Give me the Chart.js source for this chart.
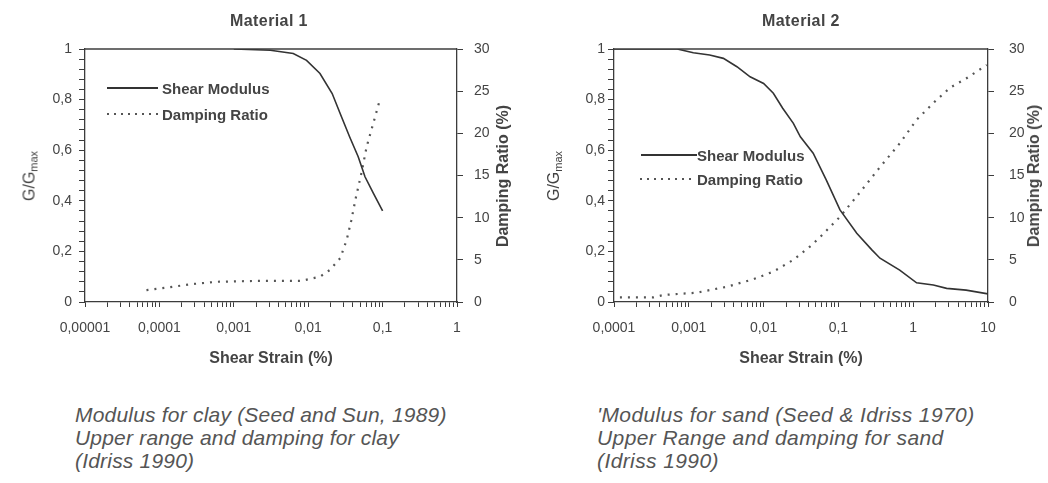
<!DOCTYPE html>
<html>
<head>
<meta charset="utf-8">
<script src="https://cdn.jsdelivr.net/npm/chart.js@4.4.1/dist/chart.umd.min.js"></script>
<style>
    body { margin: 0; background: #fff; }
    #page { position: relative; width: 1048px; height: 483px; overflow: hidden; font-family: "Liberation Sans", Arial, sans-serif; color: #444; }
    .box { position: absolute; top: 0; width: 524px; height: 380px; }
    .title { position: absolute; top: 21px; transform: translate(-50%, -50%); font-weight: bold; font-size: 16px; letter-spacing: 0.4px; white-space: nowrap; color: #444; }
    .ytitle { position: absolute; transform: translate(-50%, -50%) rotate(-90deg); white-space: nowrap; font-size: 16px; color: #444; }
    .ytitle sub { font-size: 11px; vertical-align: -3px; }
    .ytitle.bold { font-weight: bold; }
    .leg { position: absolute; height: 20px; display: flex; align-items: center; font-weight: bold; font-size: 15px; color: #444; white-space: nowrap; }
    .leg .solid { height: 0; border-top: 2px solid #333; }
    .leg .dots { height: 2px; background: repeating-linear-gradient(90deg, #555 0 2px, transparent 2px 7px); }
    .caption { position: absolute; top: 403px; font-style: italic; font-size: 21px; line-height: 23px; color: #555; white-space: nowrap; }
</style>
</head>
<body>
<div id="page">
    <div class="box" style="left:0"><canvas id="chartClay" width="524" height="380"></canvas></div>
    <div class="box" style="left:524px"><canvas id="chartSand" width="524" height="380"></canvas></div>

    <div class="title" style="left:269px">Material 1</div>
    <div class="title" style="left:801px">Material 2</div>

    <div class="ytitle" style="left:30px; top:176px">G/G<sub>max</sub></div>
    <div class="ytitle bold" style="left:503px; top:176px">Damping Ratio (%)</div>
    <div class="ytitle" style="left:554px; top:176px">G/G<sub>max</sub></div>
    <div class="ytitle bold" style="left:1034px; top:176px">Damping Ratio (%)</div>

    <div class="leg" style="left:107px; top:78px"><span class="solid" style="width:51px; margin-right:4px"></span>Shear Modulus</div>
    <div class="leg" style="left:107px; top:104px"><span class="dots" style="width:51px; margin-right:4px"></span>Damping Ratio</div>
    <div class="leg" style="left:641px; top:145px"><span class="solid" style="width:56px; margin-right:0"></span>Shear Modulus</div>
    <div class="leg" style="left:640px; top:169px"><span class="dots" style="width:53px; margin-right:4px"></span>Damping Ratio</div>

    <div class="caption" style="left:75px; letter-spacing:0.2px">Modulus for clay (Seed and Sun, 1989)<br>Upper range and damping for clay<br>(Idriss 1990)</div>
    <div class="caption" style="left:597px; letter-spacing:0.4px">'Modulus for sand (Seed &amp; Idriss 1970)<br>Upper Range and damping for sand<br>(Idriss 1990)</div>
</div>

<script>
// === Data ===
// Material 1 (clay)
const clayStrainG = [0.001, 0.0031, 0.0063, 0.0095, 0.0144, 0.021, 0.028, 0.036, 0.047, 0.058, 0.075, 0.1];
const clayModulus = [1.0, 0.995, 0.982, 0.955, 0.903, 0.824, 0.732, 0.653, 0.574, 0.495, 0.43, 0.36];
const clayStrainD = [0.000067, 0.000125, 0.00026, 0.0006, 0.002, 0.008, 0.0144, 0.0196, 0.027, 0.033, 0.038, 0.044, 0.052, 0.061, 0.075, 0.092];
const clayDamping = [1.4, 1.7, 2.1, 2.4, 2.5, 2.5, 3.0, 3.8, 5.2, 7.4, 9.7, 12.5, 15.3, 18.4, 21.2, 24.0];

// Material 2 (sand)
const sandStrainG = [0.0001, 0.0007, 0.00115, 0.0019, 0.0029, 0.0044, 0.0066, 0.01, 0.0135, 0.018, 0.025, 0.031, 0.046, 0.069, 0.105, 0.176, 0.28, 0.36, 0.66, 1.11, 1.86, 2.8, 5.1, 10];
const sandModulus = [1.0, 1.0, 0.985, 0.976, 0.963, 0.93, 0.89, 0.864, 0.825, 0.766, 0.706, 0.653, 0.588, 0.482, 0.364, 0.272, 0.206, 0.173, 0.126, 0.076, 0.067, 0.054, 0.047, 0.032];
const sandStrainD = [0.00012, 0.00034, 0.00046, 0.00126, 0.0032, 0.0073, 0.0135, 0.025, 0.042, 0.057, 0.105, 0.19, 0.36, 0.66, 1.11, 1.86, 3.1, 5.1, 9.6];
const sandDamping = [0.56, 0.56, 0.83, 1.1, 1.8, 2.7, 3.6, 5.0, 6.6, 7.7, 10.1, 12.9, 16.0, 18.8, 21.6, 23.6, 25.4, 26.5, 28.1];

// Tick labels
const clayDecades = [0.00001, 0.0001, 0.001, 0.01, 0.1, 1];
const clayDecadeLabels = ['0,00001', '0,0001', '0,001', '0,01', '0,1', '1'];
const sandDecades = [0.0001, 0.001, 0.01, 0.1, 1, 10];
const sandDecadeLabels = ['0,0001', '0,001', '0,01', '0,1', '1', '10'];
const modulusTickLabels = ['0', '0,2', '0,4', '0,6', '0,8', '1'];
const dampingTickLabels = ['0', '5', '10', '15', '20', '25', '30'];

// === Styling ===
const AXIS = '#3c3c3c';
const TEXT = '#444';
const FONT = '"Liberation Sans", Arial, sans-serif';

const frameTop = {
    id: 'frameTop',
    afterDraw(chart) {
        const { ctx, chartArea: a } = chart;
        ctx.save();
        ctx.strokeStyle = AXIS;
        ctx.lineWidth = 1.3;
        ctx.beginPath();
        ctx.moveTo(a.left, a.top);
        ctx.lineTo(a.right, a.top);
        ctx.stroke();
        ctx.restore();
    }
};

function toPoints(xs, ys) {
    return xs.map((x, i) => ({ x: x, y: ys[i] }));
}

// log axis: tick at 1..9 of every decade
function logTicks(decades) {
    const ticks = [];
    for (let i = 0; i < decades.length - 1; i++) {
        for (let k = 1; k < 10; k++) ticks.push(Number((decades[i] * k).toPrecision(6)));
    }
    ticks.push(decades[decades.length - 1]);
    return ticks;
}

function buildChart(id, s) {
    const ctx = document.getElementById(id).getContext('2d');
    const tickGrid = (len) => ({ display: true, drawOnChartArea: false, drawTicks: true, tickLength: len, color: AXIS, lineWidth: 1 });
    const border = { display: true, color: AXIS, width: 1.3 };
    const tickFont = { family: FONT, size: 14 };

    return new Chart(ctx, {
        type: 'line',
        data: {
            datasets: [
                { label: 'Shear Modulus', data: toPoints(s.strainG, s.modulus), yAxisID: 'y',
                  borderColor: '#333', borderWidth: 1.6, pointRadius: 0, tension: 0, fill: false },
                { label: 'Damping Ratio', data: toPoints(s.strainD, s.damping), yAxisID: 'y1',
                  borderColor: '#555', borderWidth: 2.2, borderDash: [2, 6], pointRadius: 0, tension: 0, fill: false }
            ]
        },
        options: {
            responsive: false,
            animation: false,
            layout: { padding: { top: 49, left: 0, right: 0, bottom: 0 } },
            plugins: { legend: { display: false }, tooltip: { enabled: false } },
            scales: {
                x: {
                    type: 'logarithmic',
                    min: s.decades[0],
                    max: s.decades[s.decades.length - 1],
                    afterBuildTicks: (axis) => { axis.ticks = logTicks(s.decades).map(v => ({ value: v })); },
                    afterFit: (axis) => { axis.height = 78; },
                    ticks: {
                        autoSkip: false, maxRotation: 0, padding: 13, color: TEXT, font: tickFont,
                        callback: (v) => {
                            const i = s.decades.findIndex(d => Math.abs(d - v) < d * 1e-6);
                            return i >= 0 ? s.decadeLabels[i] : '';
                        }
                    },
                    grid: tickGrid(5),
                    border: border,
                    title: { display: true, text: 'Shear Strain (%)', color: TEXT, font: { family: FONT, size: 16, weight: 'bold' }, padding: { top: 4, bottom: 12 } }
                },
                y: {
                    position: 'left',
                    min: 0, max: 1,
                    afterFit: (axis) => { axis.width = s.left; },
                    ticks: {
                        stepSize: 0.04, maxTicksLimit: 40, autoSkip: false, padding: s.yPad, color: TEXT, font: tickFont,
                        callback: (v) => Math.abs(v * 5 - Math.round(v * 5)) < 1e-6 ? modulusTickLabels[Math.round(v * 5)] : ''
                    },
                    grid: tickGrid(6),
                    border: border
                },
                y1: {
                    position: 'right',
                    min: 0, max: 30,
                    afterFit: (axis) => { axis.width = 524 - s.right; },
                    ticks: {
                        stepSize: 5, autoSkip: false, padding: s.y1Pad, color: TEXT, font: tickFont,
                        callback: (v) => dampingTickLabels[Math.round(v / 5)]
                    },
                    grid: tickGrid(6),
                    border: border
                }
            }
        },
        plugins: [frameTop]
    });
}

buildChart('chartClay', {
    strainG: clayStrainG, modulus: clayModulus, strainD: clayStrainD, damping: clayDamping,
    decades: clayDecades, decadeLabels: clayDecadeLabels,
    left: 85, right: 457, yPad: 7, y1Pad: 11
});

buildChart('chartSand', {
    strainG: sandStrainG, modulus: sandModulus, strainD: sandStrainD, damping: sandDamping,
    decades: sandDecades, decadeLabels: sandDecadeLabels,
    left: 90, right: 464, yPad: 3, y1Pad: 15
});
</script>
</body>
</html>
